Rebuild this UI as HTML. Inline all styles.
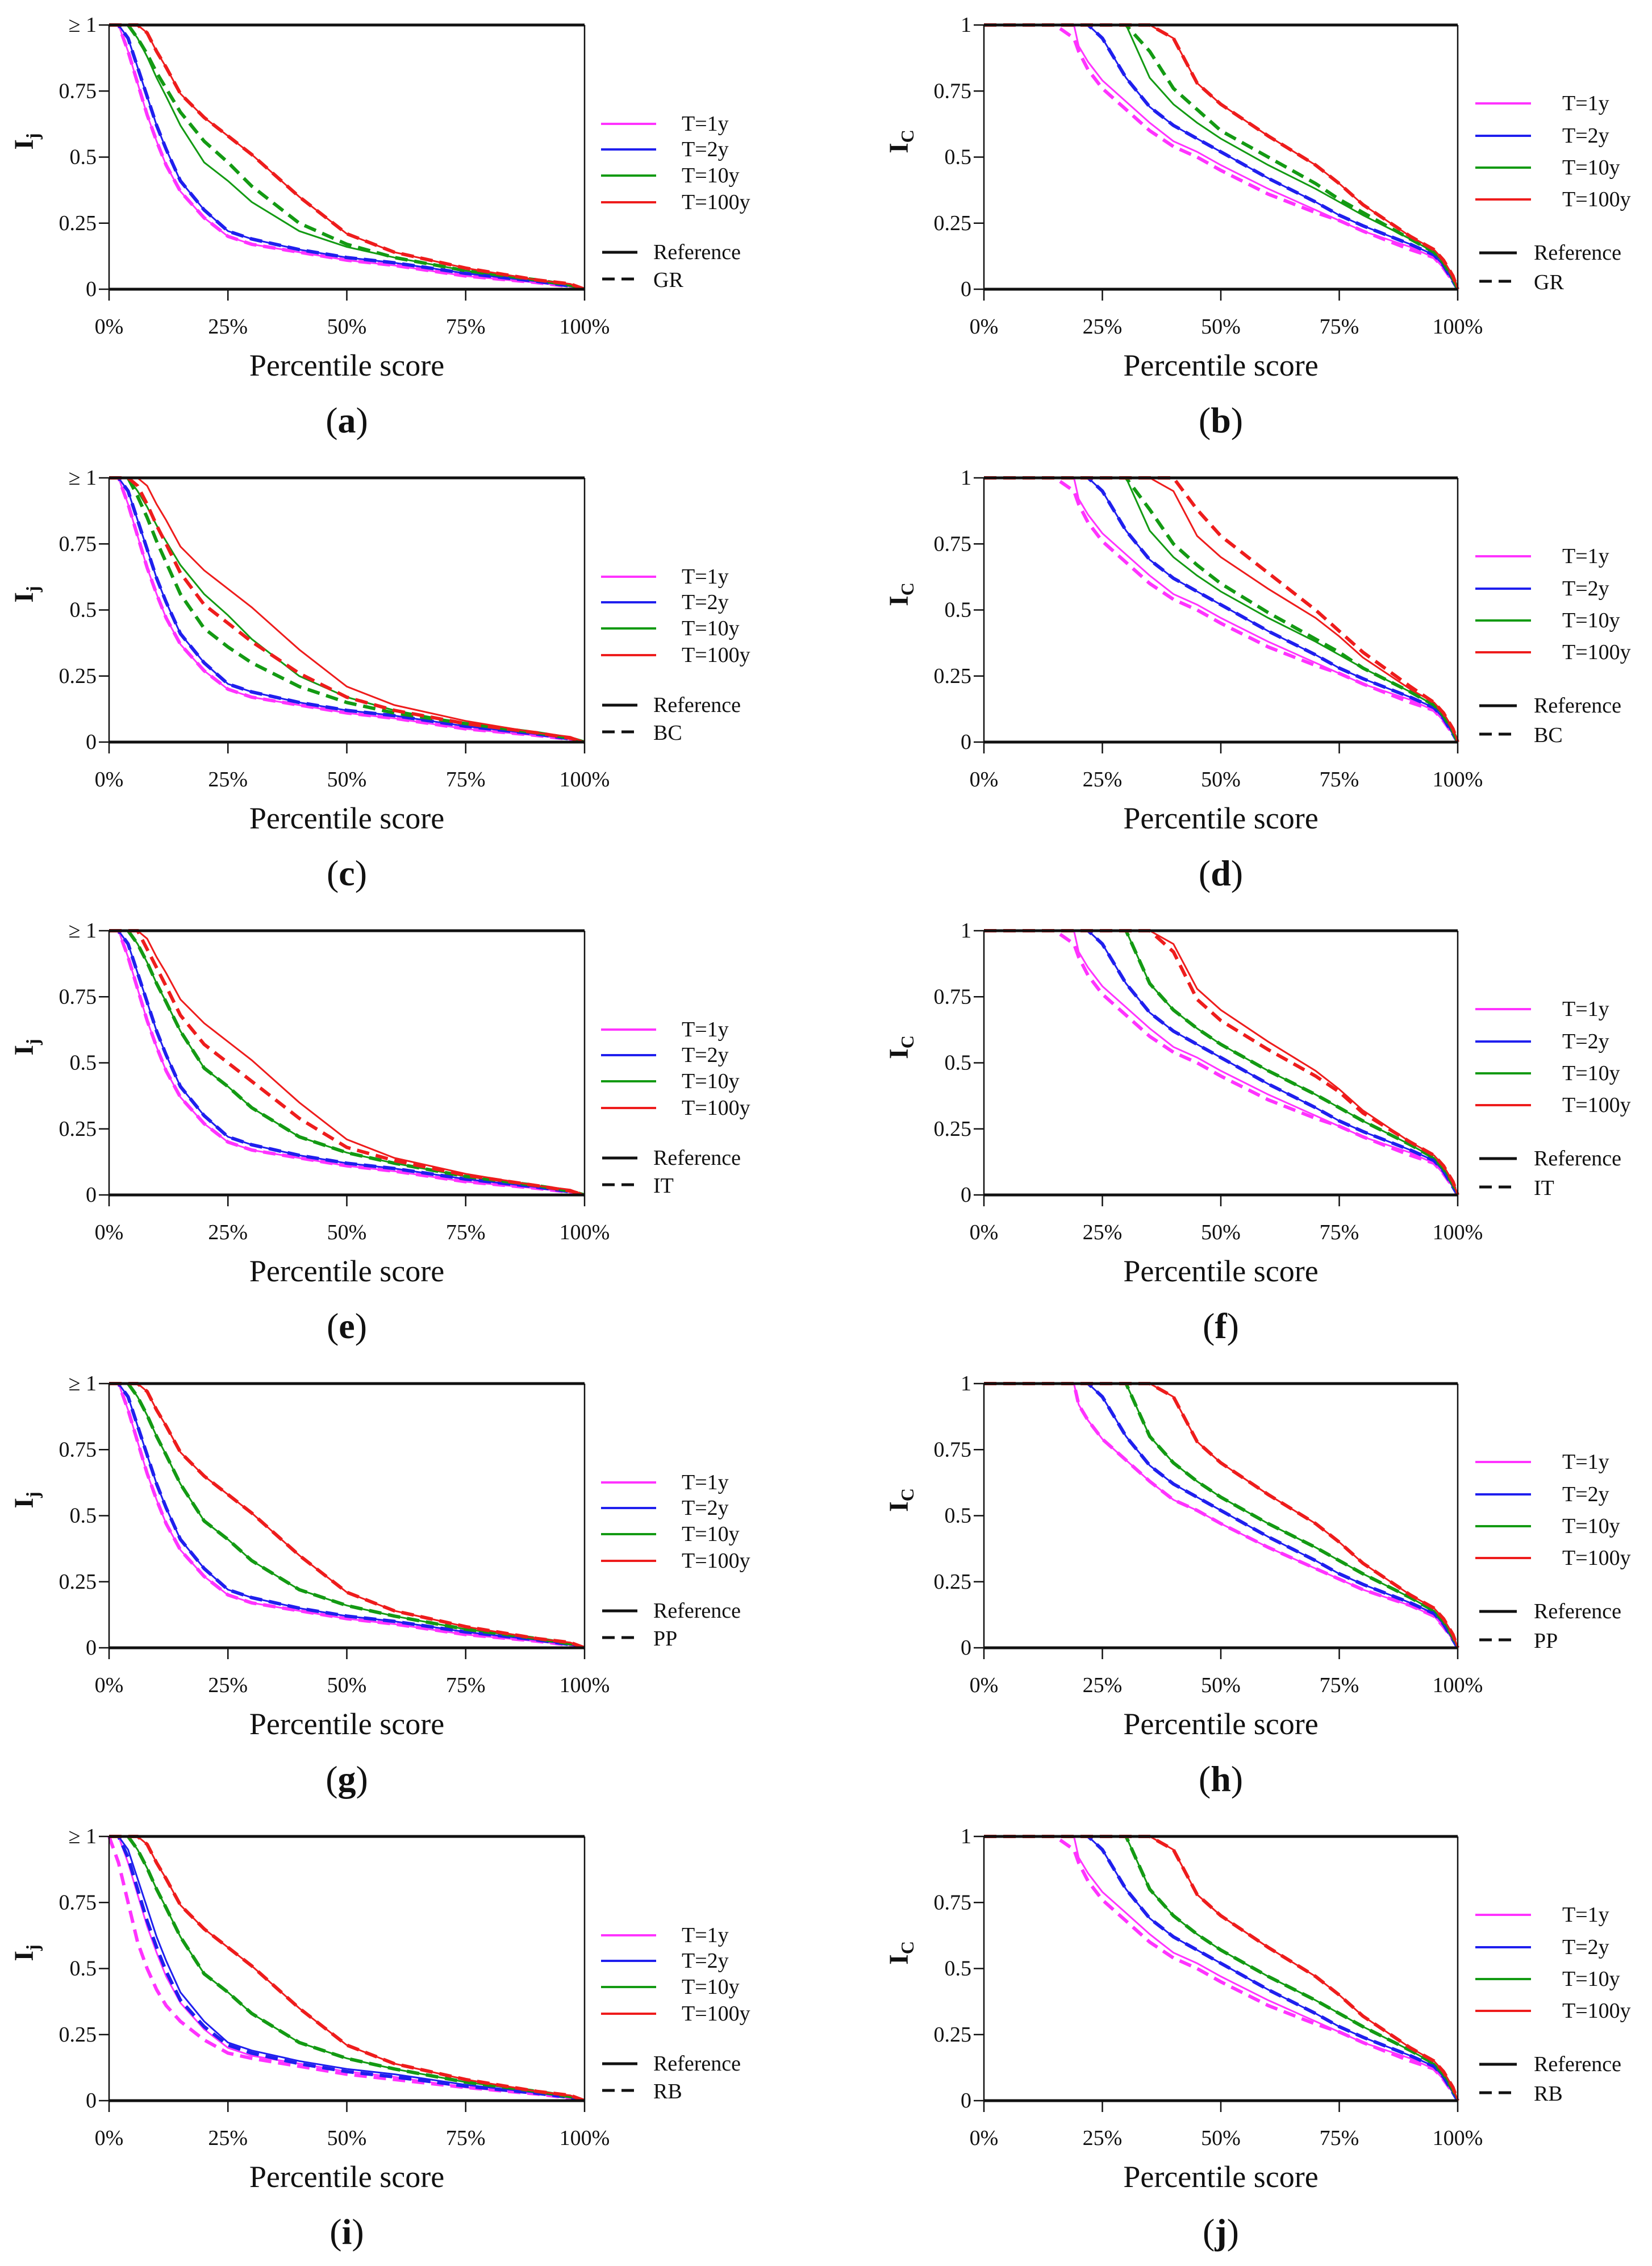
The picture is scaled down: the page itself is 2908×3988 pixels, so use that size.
<!DOCTYPE html>
<html><head><meta charset="utf-8"><style>
html,body{margin:0;padding:0;background:#fff;}
svg{display:block;}
svg text{font-family:"Liberation Serif","DejaVu Serif",serif;fill:#111;}
</style></head><body>
<svg id="fig" width="2908" height="3988" viewBox="0 0 2908 3988" xmlns="http://www.w3.org/2000/svg" font-family="Liberation Serif, serif"></svg>
<script>
// ---- data ----
const xLeft = [0,2,4,6,8,10,12,15,20,25,30,40,50,60,75,90,97,100];
const L_T1 = [1,1,0.9,0.78,0.66,0.56,0.47,0.37,0.27,0.2,0.17,0.14,0.11,0.09,0.05,0.025,0.01,0];
const L_T2 = [1,1,0.95,0.84,0.73,0.62,0.53,0.41,0.3,0.22,0.19,0.15,0.12,0.1,0.06,0.03,0.012,0];
const L_T10 = [1,1,1,0.95,0.88,0.8,0.73,0.62,0.48,0.41,0.33,0.22,0.16,0.12,0.07,0.035,0.015,0];
const L_T100 = [1,1,1,1,0.97,0.9,0.84,0.74,0.65,0.58,0.51,0.35,0.21,0.14,0.08,0.035,0.02,0];
const GR_T10 = [1,1,1,0.95,0.89,0.82,0.76,0.67,0.56,0.48,0.39,0.25,0.17,0.12,0.07,0.035,0.015,0];
const BC_T10 = [1,1,1,0.93,0.85,0.76,0.68,0.56,0.43,0.36,0.3,0.21,0.15,0.11,0.07,0.035,0.015,0];
const BC_T100 = [1,1,1,0.97,0.9,0.82,0.75,0.64,0.52,0.45,0.38,0.26,0.17,0.12,0.07,0.035,0.015,0];
const IT_T100 = [1,1,1,1,0.93,0.86,0.79,0.68,0.57,0.5,0.43,0.29,0.18,0.13,0.075,0.035,0.015,0];
const RB_T1 = [1,0.9,0.75,0.6,0.5,0.42,0.36,0.3,0.23,0.18,0.16,0.13,0.1,0.08,0.05,0.025,0.01,0];
const RB_T2 = [1,1,0.92,0.8,0.68,0.58,0.49,0.38,0.28,0.21,0.18,0.14,0.11,0.09,0.055,0.028,0.012,0];

const xRight = [0,15,19,20,22,25,30,35,40,45,50,60,70,75,80,90,95,97,99,100];
const R_T1 = [1,1,1,0.92,0.86,0.79,0.71,0.63,0.56,0.52,0.47,0.38,0.3,0.26,0.22,0.16,0.12,0.08,0.03,0];
const R_T2 = [1,1,1,1,1,0.95,0.8,0.69,0.62,0.57,0.52,0.42,0.33,0.28,0.24,0.17,0.13,0.09,0.03,0];
const R_T10 = [1,1,1,1,1,1,1,0.8,0.7,0.63,0.57,0.47,0.38,0.33,0.28,0.19,0.14,0.1,0.04,0];
const R_T100 = [1,1,1,1,1,1,1,1,0.95,0.78,0.7,0.58,0.47,0.4,0.32,0.2,0.15,0.11,0.05,0];
const Rd_T1 = [1,1,0.95,0.9,0.83,0.76,0.68,0.6,0.54,0.5,0.45,0.36,0.29,0.26,0.22,0.15,0.12,0.08,0.03,0];
const GRr_T10 = [1,1,1,1,1,1,1,0.9,0.76,0.68,0.6,0.5,0.4,0.34,0.29,0.19,0.14,0.1,0.04,0];
const BCr_T100 = [1,1,1,1,1,1,1,1,1,0.88,0.78,0.64,0.5,0.42,0.34,0.21,0.15,0.11,0.05,0];
const BCr_T10 = [1,1,1,1,1,1,1,0.88,0.75,0.67,0.6,0.49,0.39,0.34,0.28,0.19,0.14,0.1,0.04,0];
const ITr_T100 = [1,1,1,1,1,1,1,1,0.92,0.74,0.66,0.55,0.45,0.39,0.31,0.2,0.15,0.11,0.05,0];

const xTicks = ["0%","25%","50%","75%","100%"];
const yTicksL = ["0","0.25","0.5","0.75","\u2265 1"];
const yTicksR = ["0","0.25","0.5","0.75","1"];
const seriesNames = ["T=1y","T=2y","T=10y","T=100y"];
const colors = ["#ff33ff","#1f1fee","#139a13","#ee1c1c"];

const panels = [
 {id:"a",col:0,row:0,method:"GR",ref:[L_T1,L_T2,L_T10,L_T100],alt:[L_T1,L_T2,GR_T10,L_T100]},
 {id:"b",col:1,row:0,method:"GR",ref:[R_T1,R_T2,R_T10,R_T100],alt:[Rd_T1,R_T2,GRr_T10,R_T100]},
 {id:"c",col:0,row:1,method:"BC",ref:[L_T1,L_T2,GR_T10,L_T100],alt:[L_T1,L_T2,BC_T10,BC_T100]},
 {id:"d",col:1,row:1,method:"BC",ref:[R_T1,R_T2,R_T10,R_T100],alt:[Rd_T1,R_T2,BCr_T10,BCr_T100]},
 {id:"e",col:0,row:2,method:"IT",ref:[L_T1,L_T2,L_T10,L_T100],alt:[L_T1,L_T2,L_T10,IT_T100]},
 {id:"f",col:1,row:2,method:"IT",ref:[R_T1,R_T2,R_T10,R_T100],alt:[Rd_T1,R_T2,R_T10,ITr_T100]},
 {id:"g",col:0,row:3,method:"PP",ref:[L_T1,L_T2,L_T10,L_T100],alt:[L_T1,L_T2,L_T10,L_T100]},
 {id:"h",col:1,row:3,method:"PP",ref:[R_T1,R_T2,R_T10,R_T100],alt:[R_T1,R_T2,R_T10,R_T100]},
 {id:"i",col:0,row:4,method:"RB",ref:[L_T1,L_T2,L_T10,L_T100],alt:[RB_T1,RB_T2,L_T10,L_T100]},
 {id:"j",col:1,row:4,method:"RB",ref:[R_T1,R_T2,R_T10,R_T100],alt:[Rd_T1,R_T2,R_T10,R_T100]}
];

// ---- drawing ----
const NS="http://www.w3.org/2000/svg";
const svg=document.getElementById('fig');
function mk(tag,attrs,parent){const e=document.createElementNS(NS,tag);for(const k in attrs)e.setAttribute(k,attrs[k]);(parent||svg).appendChild(e);return e;}

const rowTop=[44,841,1638,2435,3232];
const colX=[[192,1029],[1732,2566]];
const PH=465;
const FF="Liberation Serif, serif";

panels.forEach(p=>{
  const g=mk('g',{'font-family':FF});
  
  
  const x0=colX[p.col][0],x1=colX[p.col][1],y0=rowTop[p.row],y1=y0+PH;
  const sx=v=>x0+(x1-x0)*v/100;
  const sy=v=>y1-PH*v;
  const xs=p.col===0?xLeft:xRight;
  for(let s=0;s<4;s++){
    const pr=p.ref[s].map((v,i)=>sx(xs[i]).toFixed(1)+','+sy(v).toFixed(1)).join(' ');
    const l1=mk('polyline',{points:pr,fill:'none',stroke:colors[s],'stroke-width':3},g);
    
    
    const pa=p.alt[s].map((v,i)=>sx(xs[i]).toFixed(1)+','+sy(v).toFixed(1)).join(' ');
    const l2=mk('polyline',{points:pa,fill:'none',stroke:colors[s],'stroke-width':6,'stroke-dasharray':'22 12'},g);
    
    
  }
  mk('line',{x1:x0,y1:y0,x2:x1,y2:y0,stroke:'#111','stroke-width':5},g);
  mk('line',{x1:x0,y1:y1,x2:x1,y2:y1,stroke:'#111','stroke-width':5},g);
  mk('line',{x1:x0,y1:y0,x2:x0,y2:y1,stroke:'#111','stroke-width':2.5},g);
  mk('line',{x1:x1,y1:y0,x2:x1,y2:y1,stroke:'#111','stroke-width':2.5},g);
  xTicks.forEach((t,i)=>{
    const x=sx(i*25);
    mk('line',{x1:x,y1:y1,x2:x,y2:y1+20,stroke:'#111','stroke-width':2.5},g);
    const tx=mk('text',{x:x,y:y1+78,'font-size':38,'text-anchor':'middle','font-family':FF},g);
    tx.textContent=t;
    
    
  });
  const yt=p.col===0?yTicksL:yTicksR;
  yt.forEach((t,i)=>{
    const y=sy(i*0.25);
    mk('line',{x1:x0-18,y1:y,x2:x0,y2:y,stroke:'#111','stroke-width':2.5},g);
    const tx=mk('text',{x:x0-22,y:y+12,'font-size':38,'text-anchor':'end','font-family':FF},g);
    tx.textContent=t;
    
    
  });
  const ytx=p.col===0?58:1598;
  const yti=mk('text',{x:ytx,y:y0+205,'font-size':48,'font-weight':'bold','font-family':FF,transform:`rotate(-90 ${ytx} ${y0+205})`,'text-anchor':'middle'},g);
  yti.innerHTML=p.col===0?'I<tspan font-size="32" dy="10">j</tspan>':'I<tspan font-size="32" dy="10">C</tspan>';
  
  
  const xt=mk('text',{x:(x0+x1)/2,y:y1+152,'font-size':54,'text-anchor':'middle','font-family':FF},g);
  xt.textContent='Percentile score';
  
  
  const pl=mk('text',{x:(x0+x1)/2,y:y1+252,'font-size':64,'text-anchor':'middle','font-family':FF},g);
  pl.innerHTML='(<tspan font-weight="bold">'+p.id+'</tspan>)';
  
  
  const lg=mk('g',{},g);
  
  
  const lx0=p.col===0?1058:2597, lx1=p.col===0?1155:2695, ltx=p.col===0?1200:2750;
  const ly=p.col===0?[174,219,265,312]:[138,195,251,307];
  const lr=p.col===0?[400,447]:[401,451];
  seriesNames.forEach((n,s)=>{
    mk('line',{x1:lx0,y1:y0+ly[s],x2:lx1,y2:y0+ly[s],stroke:colors[s],'stroke-width':4},lg);
    const t=mk('text',{x:ltx,y:y0+ly[s]+12,'font-size':38,'font-family':FF},lg);
    t.textContent=n;
    
    
  });
  const rx0=p.col===0?1060:2604, rx1=p.col===0?1122:2670, rtx=p.col===0?1150:2700;
  mk('line',{x1:rx0,y1:y0+lr[0],x2:rx1,y2:y0+lr[0],stroke:'#111','stroke-width':5},lg);
  mk('line',{x1:rx0,y1:y0+lr[1],x2:rx1,y2:y0+lr[1],stroke:'#111','stroke-width':5,'stroke-dasharray':'22 12'},lg);
  const t1=mk('text',{x:rtx,y:y0+lr[0]+12,'font-size':38,'font-family':FF},lg);
  t1.textContent='Reference';
  
  
  const t2=mk('text',{x:rtx,y:y0+lr[1]+14,'font-size':38,'font-family':FF},lg);
  t2.textContent=p.method;
  
  
});
</script>
</body></html>
